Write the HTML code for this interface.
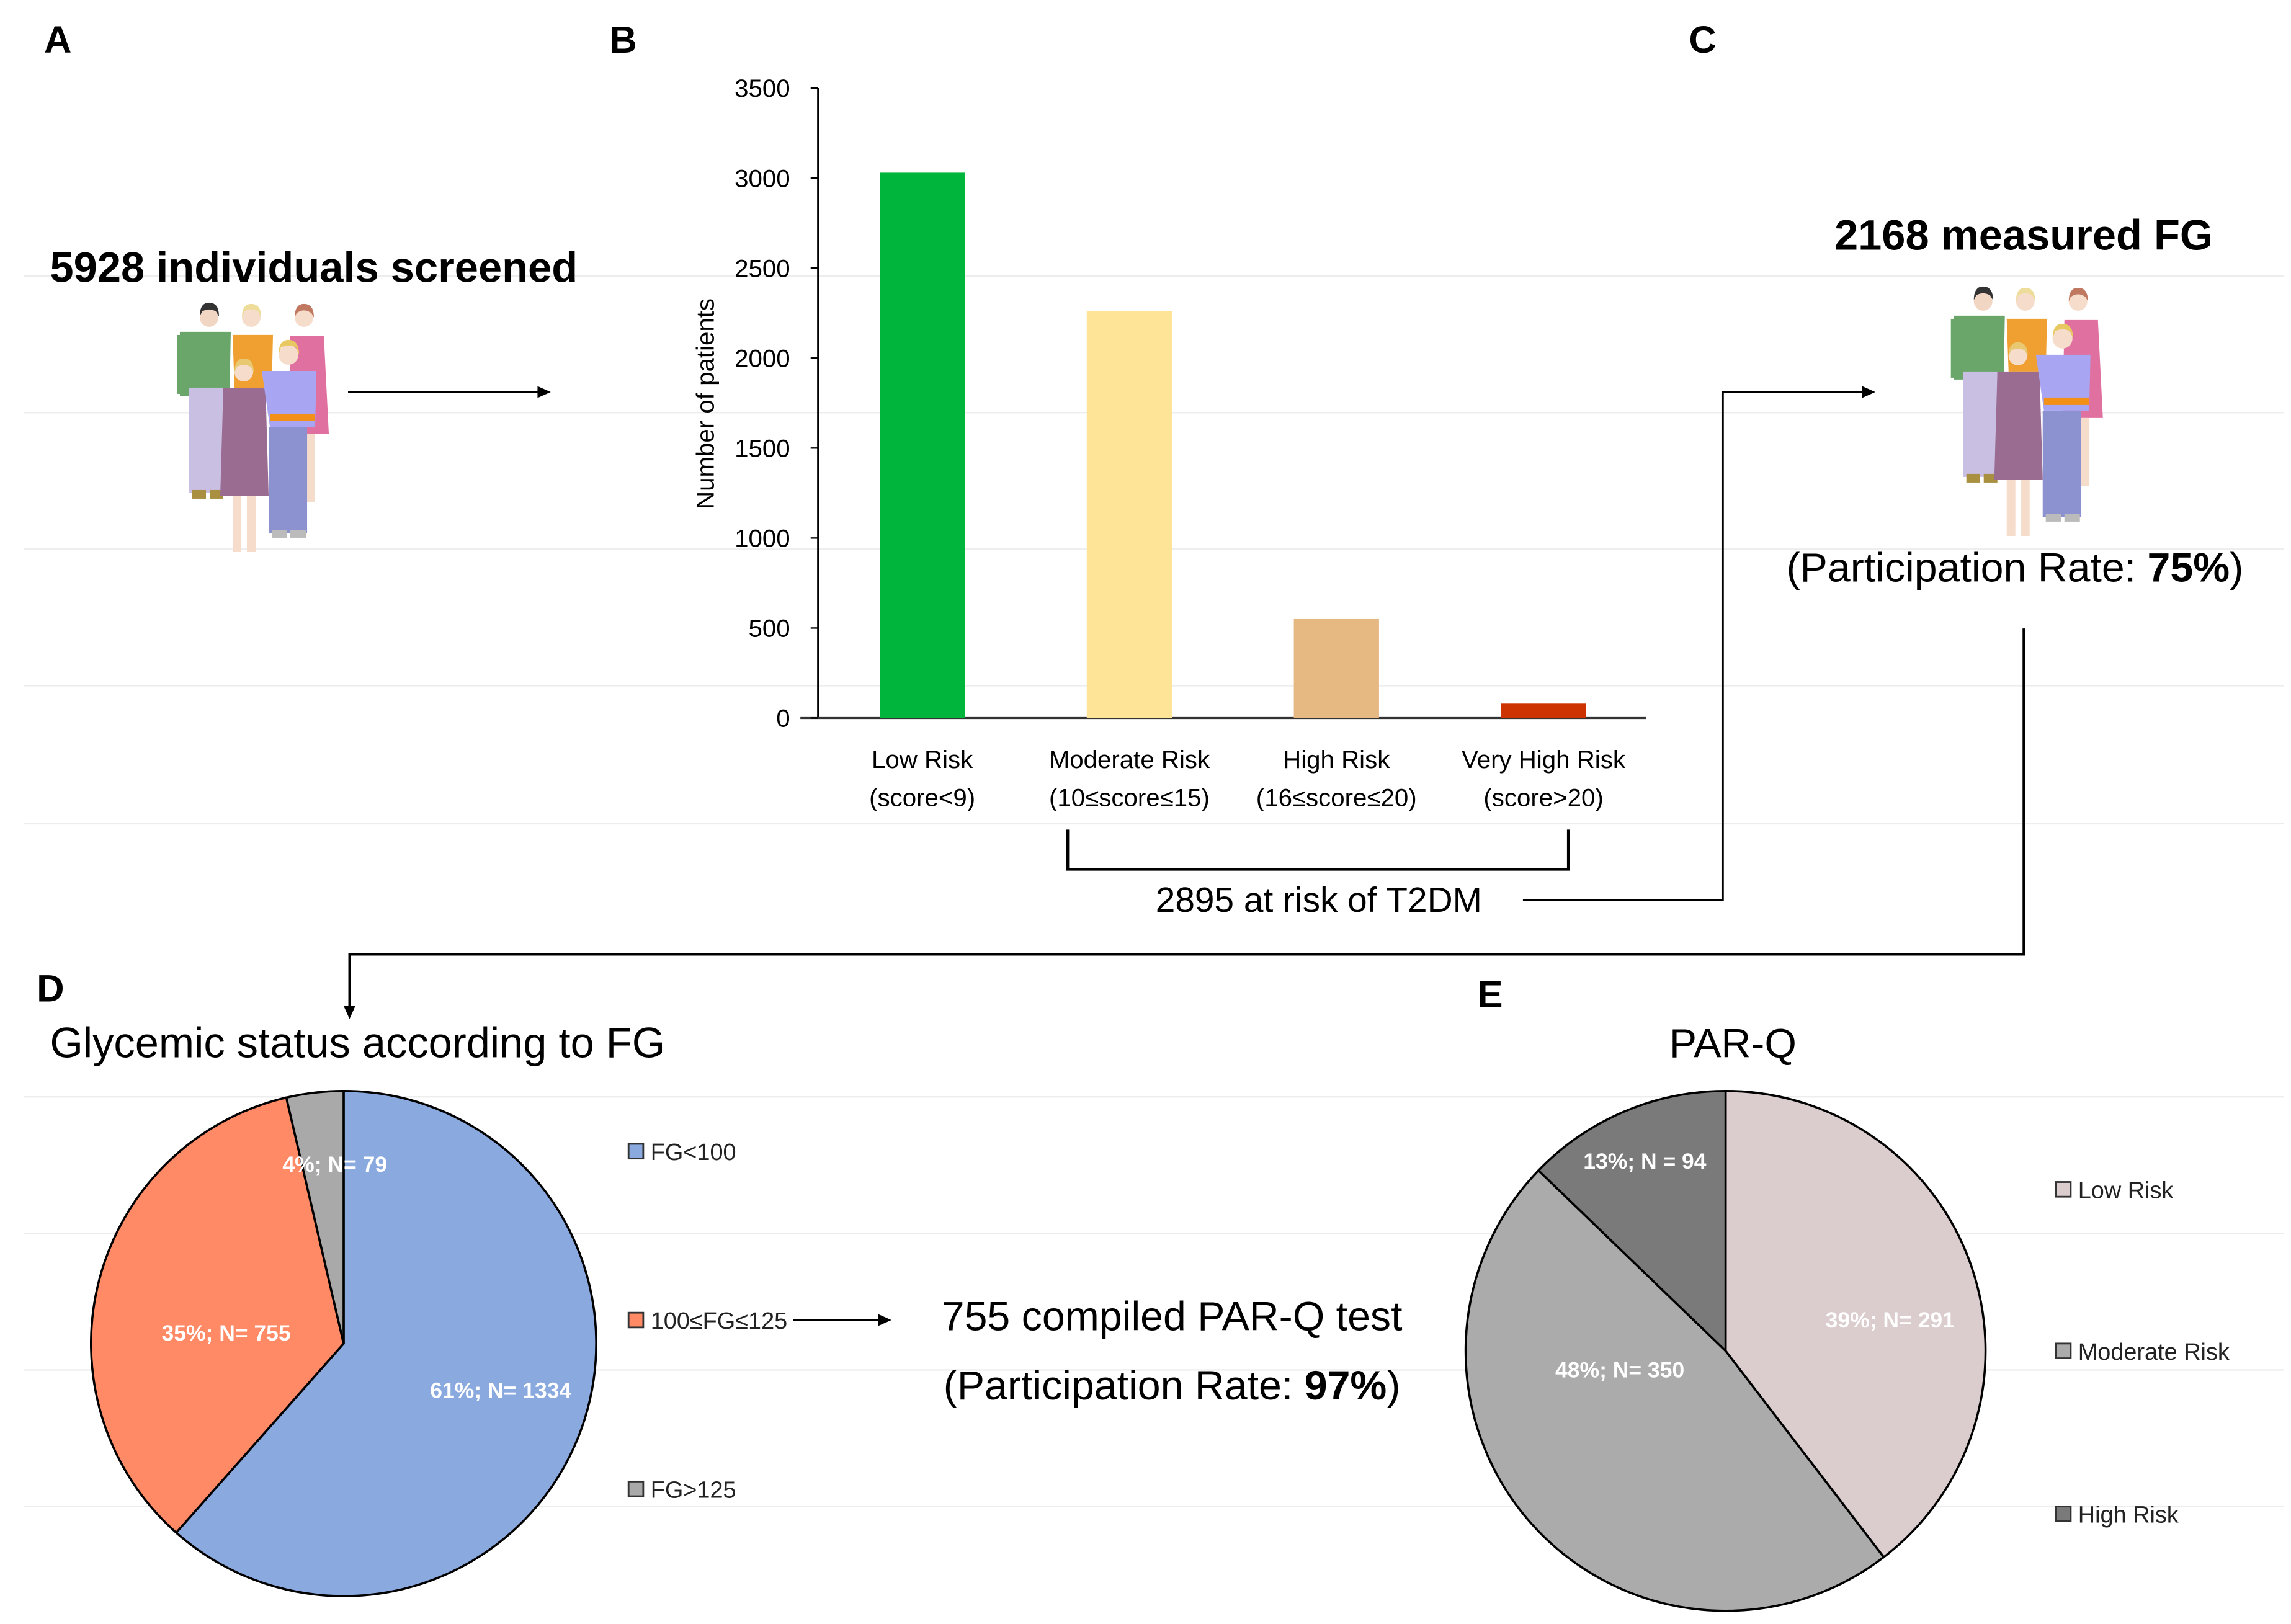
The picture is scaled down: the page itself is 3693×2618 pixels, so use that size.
<!DOCTYPE html>
<html><head><meta charset="utf-8"><style>
html,body{margin:0;padding:0;background:#fff;}
svg{display:block;font-family:"Liberation Sans",sans-serif;}
.cal{font-family:"Liberation Sans","DejaVu Sans",sans-serif;}
</style></head><body>
<svg id="fig" width="3693" height="2618" viewBox="0 0 1560 1106" preserveAspectRatio="none" xmlns="http://www.w3.org/2000/svg">
<g stroke="#ededed" stroke-width="1">
<line x1="16" x2="1555" y1="188" y2="188"/><line x1="16" x2="1555" y1="281" y2="281"/><line x1="16" x2="1555" y1="374" y2="374"/><line x1="16" x2="1555" y1="467" y2="467"/><line x1="16" x2="1555" y1="561" y2="561"/><line x1="16" x2="1555" y1="747" y2="747"/><line x1="16" x2="1555" y1="840" y2="840"/><line x1="16" x2="1555" y1="933" y2="933"/><line x1="16" x2="1555" y1="1026" y2="1026"/>
</g>
<g font-weight="bold" font-size="26" fill="#000">
<text x="30" y="36">A</text>
<text x="415" y="36">B</text>
<text x="1150" y="36">C</text>
<text x="25" y="682">D</text>
<text x="1006" y="686">E</text>
</g>
<text x="34" y="192" font-size="29" font-weight="bold">5928 individuals screened</text>
<text x="1378" y="170" font-size="29" font-weight="bold" text-anchor="middle">2168 measured FG</text>
<text x="1372" y="396" font-size="28" text-anchor="middle">(Participation Rate: <tspan font-weight="bold">75%</tspan>)</text>

<defs>
<g id="people">
<g transform="translate(105.6,194.3) scale(0.4225)">
<circle cx="240" cy="52" r="15" fill="#f6dccb"/><path d="M225 52 Q225 30 240 30 Q256 30 256 52 L252 45 Q240 36 228 45Z" fill="#c07860"/>
<path d="M218 82 L272 82 L280 240 L215 240Z" fill="#e070a0"/><rect x="242" y="240" width="16" height="110" fill="#f6dccb"/>
<circle cx="87" cy="52" r="15" fill="#f2d6c4"/><path d="M72 50 Q72 28 87 28 Q103 28 103 50 L98 42 Q87 36 76 42Z" fill="#333"/>
<path d="M40 75 L122 75 L120 178 L40 178Z" fill="#6aa56a"/><rect x="35" y="80" width="15" height="95" fill="#6aa56a"/>
<rect x="55" y="165" width="55" height="170" fill="#c9bfe2"/><rect x="60" y="330" width="22" height="14" fill="#a89040"/><rect x="88" y="330" width="22" height="14" fill="#a89040"/>
<circle cx="155" cy="52" r="15" fill="#f6dccb"/><path d="M140 52 Q140 30 155 30 Q171 30 171 52 L166 42 Q155 36 144 42Z" fill="#eedc9a"/>
<path d="M125 80 L190 80 L188 165 L128 165Z" fill="#f0a030"/>
<circle cx="143" cy="140" r="15" fill="#f6dccb"/><path d="M128 140 Q128 118 143 118 Q159 118 159 140 L154 131 Q143 126 132 131Z" fill="#e8c870"/>
<path d="M110 165 L178 165 L183 340 L105 340Z" fill="#9a6c92"/><rect x="125" y="340" width="14" height="90" fill="#f6dccb"/><rect x="148" y="340" width="14" height="90" fill="#f6dccb"/>
<circle cx="215" cy="112" r="16" fill="#f6dccb"/><path d="M199 112 Q199 88 215 88 Q232 88 232 112 L227 100 Q215 94 203 100Z" fill="#e8c860"/>
<path d="M172 138 L260 138 L258 228 L185 228Z" fill="#a8a6f2"/><rect x="185" y="207" width="73" height="12" fill="#f39018"/>
<rect x="183" y="228" width="62" height="172" fill="#8c92cf"/><rect x="188" y="395" width="25" height="12" fill="#bbb"/><rect x="218" y="395" width="25" height="12" fill="#bbb"/>
</g></g>
</defs>
<use href="#people"/>
<use href="#people" transform="translate(1208,-11)"/>

<g stroke="#000" stroke-width="1.6" fill="none">
<line x1="237" y1="267" x2="368" y2="267"/>
<path d="M727 565 L727 592 L1068 592 L1068 565" stroke-width="2"/>
<path d="M1037 613 L1173 613 L1173 267 L1270 267"/>
<path d="M1378 428 L1378 650 L238 650 L238 688"/>
<line x1="540" y1="899" x2="600" y2="899"/>
</g>
<g fill="#000">
<polygon points="375,267 366,263 366,271"/><polygon points="1277,267 1268,263 1268,271"/>
<polygon points="238,694 234,685 242,685"/><polygon points="607,899 598,895 598,903"/>
</g>
<text x="898" y="621" font-size="24" text-anchor="middle">2895 at risk of T2DM</text>

<g id="barChart"></g>

<text x="34" y="720" font-size="29">Glycemic status according to FG</text>
<text x="1180" y="720" font-size="28" text-anchor="middle">PAR-Q</text>
<g id="pieD"></g>
<g id="pieE"></g>
<text x="798" y="906" font-size="28" text-anchor="middle">755 compiled PAR-Q test</text>
<text x="798" y="953" font-size="28" text-anchor="middle">(Participation Rate: <tspan font-weight="bold">97%</tspan>)</text>
</svg>
<script>
const barCategories1 = ["Low Risk", "Moderate Risk", "High Risk", "Very High Risk"];
const barCategories2 = ["(score<9)", "(10≤score≤15)", "(16≤score≤20)", "(score>20)"];
const barValues = [3030, 2260, 550, 80];
const barColors = ["#00b53c", "#fde496", "#e6b882", "#cc3300"];
const yTicks = [0, 500, 1000, 1500, 2000, 2500, 3000, 3500];

const pieDLabels = ["FG<100", "100≤FG≤125", "FG>125"];
const pieDValues = [1334, 755, 79];
const pieDText = ["61%; N= 1334", "35%; N= 755", "4%; N= 79"];
const pieDColors = ["#8aa9df", "#ff8a65", "#a9a9a9"];

const pieELabels = ["Low Risk", "Moderate Risk", "High Risk"];
const pieEValues = [291, 350, 94];
const pieEText = ["39%; N= 291", "48%; N= 350", "13%; N = 94"];
const pieEColors = ["#dbcdcd", "#ababab", "#7a7a7a"];

const NS = "http://www.w3.org/2000/svg";
function mk(tag, attrs, parent, txt) {
  const e = document.createElementNS(NS, tag);
  for (const k in attrs) e.setAttribute(k, attrs[k]);
  if (txt !== undefined) e.textContent = txt;
  parent.appendChild(e);
  return e;
}
const bc = document.getElementById("barChart");
const X0 = 557, Y0 = 489, Ytop = 60, yMax = 3500;
const yS = v => Y0 - (v / yMax) * (Y0 - Ytop);
const xS = i => 628 + i * 141;
mk("line", {x1: X0, y1: Ytop, x2: X0, y2: Y0, stroke: "#000", "stroke-width": 1.2}, bc);
mk("line", {x1: 545, y1: Y0, x2: 1121, y2: Y0, stroke: "#333", "stroke-width": 1.4}, bc);
yTicks.forEach(t => {
  const tk = mk("line", {x1: X0 - 5, x2: X0, y1: yS(t), y2: yS(t), stroke: "#000"}, bc);
  
  
  const tl = mk("text", {x: 538, y: yS(t) + 6, "font-size": 17, "text-anchor": "end", class: "cal"}, bc, t);
  
  
});
const yt = mk("text", {transform: "translate(486,275) rotate(-90)", "font-size": 17, "text-anchor": "middle", class: "cal"}, bc, "Number of patients");


barValues.forEach((v, i) => {
  const r = mk("rect", {x: xS(i) - 29, y: yS(v), width: 58, height: Y0 - yS(v), fill: barColors[i]}, bc);
  
  
  const l1 = mk("text", {x: xS(i), y: 523, "font-size": 17, "text-anchor": "middle", class: "cal"}, bc, barCategories1[i]);
  
  
  const l2 = mk("text", {x: xS(i), y: 549, "font-size": 17, "text-anchor": "middle", class: "cal"}, bc, barCategories2[i]);
  
  
});
function pie(id, cx, cy, r, vals, cols, texts, tpos, legendX, legendY, labels) {
  const g = document.getElementById(id);
  const tot = vals.reduce((a, b) => a + b, 0);
  let a0 = 0;
  vals.forEach((v, i) => {
    const a1 = a0 + v / tot * 2 * Math.PI;
    const x0 = cx + r * Math.sin(a0), y0 = cy - r * Math.cos(a0);
    const x1 = cx + r * Math.sin(a1), y1 = cy - r * Math.cos(a1);
    const large = (a1 - a0) > Math.PI ? 1 : 0;
    const p = mk("path", {d: `M${cx},${cy} L${x0},${y0} A${r},${r} 0 ${large} 1 ${x1},${y1} Z`, fill: cols[i], stroke: "#000", "stroke-width": 1.5}, g);
    
    
    a0 = a1;
  });
  texts.forEach((t, i) => {
    const tx = mk("text", {x: tpos[i][0], y: tpos[i][1], "font-size": 15, "font-weight": "bold", fill: "#fff", "text-anchor": "middle", class: "cal"}, g, t);
    
    
  });
  labels.forEach((l, i) => {
    const sq = mk("rect", {x: legendX, y: legendY[i] - 5, width: 10, height: 10, fill: cols[i], stroke: "#333", "stroke-width": 1.2}, g);
    
    
    const lt = mk("text", {x: legendX + 15, y: legendY[i] + 6, "font-size": 16, class: "cal", fill: "#222"}, g, l);
    
    
  });
}
pie("pieD", 234, 915, 172, pieDValues, pieDColors, pieDText, [[341, 952], [154, 913], [228, 798]], 428, [784, 899, 1014], pieDLabels);
pie("pieE", 1175, 920, 177, pieEValues, pieEColors, pieEText, [[1287, 904], [1103, 938], [1120, 796]], 1400, [810, 920, 1031], pieELabels);
</script>
</body></html>
